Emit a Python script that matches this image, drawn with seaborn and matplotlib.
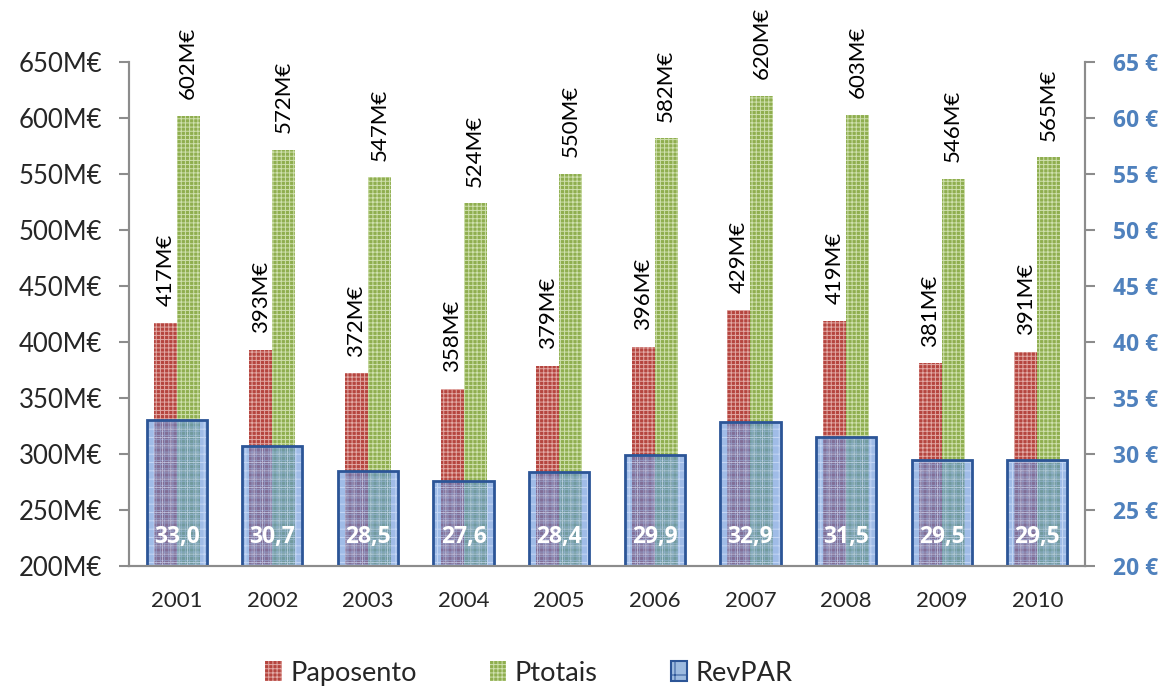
import matplotlib
matplotlib.use("Agg")
import matplotlib.pyplot as plt
import matplotlib.patches as mpatches
import seaborn as sns
import pandas as pd

years = ["2001", "2002", "2003", "2004", "2005", "2006", "2007", "2008", "2009", "2010"]
paposento = [417, 393, 372, 358, 379, 396, 429, 419, 381, 391]
ptotais = [602, 572, 547, 524, 550, 582, 620, 603, 546, 565]
revpar = [33.0, 30.7, 28.5, 27.6, 28.4, 29.9, 32.9, 31.5, 29.5, 29.5]
left_ticks = [200, 250, 300, 350, 400, 450, 500, 550, 600, 650]
right_ticks = [20, 25, 30, 35, 40, 45, 50, 55, 60, 65]

sns.set_theme(style="white")
plt.rcParams["font.family"] = ["Lato", "DejaVu Sans"]
plt.rcParams["hatch.linewidth"] = 0.7
BOLD_FAMILY = ["Open Sans", "Roboto", "DejaVu Sans"]

RED = "#B5453F"
GREEN = "#8FAE4F"
BLUE_FILL = (0.36, 0.55, 0.84, 0.58)
BLUE_EDGE = "#2C5597"
AXC = "#8C8C8C"

df = pd.DataFrame({
    "Ano": years * 2,
    "valor": paposento + ptotais,
    "serie": ["Paposento"] * len(years) + ["Ptotais"] * len(years),
})
df_rev = pd.DataFrame({"Ano": years, "RevPAR": revpar})

fig = plt.figure(figsize=(11.68, 6.91), dpi=100)
ax = fig.add_axes([0.1104, 0.181, 0.8186, 0.729])

sns.barplot(data=df, x="Ano", y="valor", hue="serie", order=years,
            palette=[RED, GREEN], width=0.48, ax=ax, legend=False,
            saturation=1)
hatch_cols = ["#E2A9A5", "#CFE0AE"]
for cont, hc in zip(ax.containers, hatch_cols):
    for p in cont.patches:
        p.set_hatch("++++")
        p.set_edgecolor(hc)
        p.set_linewidth(0)
    ax.bar_label(cont, labels=[f"{v:.0f}M€" for v in cont.datavalues],
                 rotation=90, padding=12, fontsize=16, color="black",
                 clip_on=False)

ax.set_ylim(200, 650)
ax.set_yticks(left_ticks)
ax.set_yticklabels([f"{t}M€" for t in left_ticks], fontsize=18.5)
ax.set_xlim(-0.5, len(years) - 0.5)
ax.set_xlabel("")
ax.set_ylabel("")
ax.tick_params(axis="x", which="major", length=0, labelsize=16, pad=18)
ax.set_xticks([i - 0.5 for i in range(len(years) + 1)], minor=True)
ax.tick_params(axis="x", which="minor", length=7, color=AXC, width=1.5, direction="out")
ax.tick_params(axis="y", length=7, color=AXC, width=1.5, direction="out", pad=12)

ax2 = ax.twinx()
sns.barplot(data=df_rev, x="Ano", y="RevPAR", order=years, color="#9DBBE0",
            width=0.63, ax=ax2, saturation=1)
for p in ax2.containers[0].patches:
    p.set_facecolor(BLUE_FILL)
    p.set_hatch("++")
    p.set_edgecolor((0.88, 0.92, 1.0, 0.55))
    p.set_linewidth(0)
    ax2.add_patch(mpatches.Rectangle(p.get_xy(), p.get_width(), p.get_height(),
                                     fill=False, edgecolor=BLUE_EDGE, linewidth=2))
for p, v in zip(ax2.containers[0].patches, revpar):
    ax2.text(p.get_x() + p.get_width() / 2, 22.6, f"{v:.1f}".replace(".", ","),
             ha="center", va="center", color="white", fontweight="bold",
             fontsize=16.5, family=BOLD_FAMILY, zorder=5)

ax2.set_ylim(20, 65)
ax2.set_yticks(right_ticks)
ax2.set_yticklabels([f"{t} €" for t in right_ticks], fontsize=16.5,
                    fontweight="bold", color="#4F81BD", family=BOLD_FAMILY)
ax2.set_ylabel("")
ax2.set_xlim(-0.5, len(years) - 0.5)
ax2.tick_params(axis="y", length=7, color=AXC, width=1.5, direction="out", pad=13)

for a in (ax, ax2):
    a.spines["top"].set_visible(False)
    for s in ("left", "right", "bottom"):
        a.spines[s].set_color(AXC)
        a.spines[s].set_linewidth(1.5)
    a.grid(False)
    a.set_facecolor("none")

handles = [
    mpatches.Patch(facecolor=RED, edgecolor="#E2A9A5", hatch="++++", linewidth=0, label="Paposento"),
    mpatches.Patch(facecolor=GREEN, edgecolor="#CFE0AE", hatch="++++", linewidth=0, label="Ptotais"),
    mpatches.Patch(facecolor="#9DBBE0", edgecolor=BLUE_EDGE, hatch="+", linewidth=1.5, label="RevPAR"),
]
fig.legend(handles=handles, loc="center", bbox_to_anchor=(0.453, 0.026), ncol=3,
           frameon=False, fontsize=19.5, handlelength=0.6, handleheight=0.8,
           handletextpad=0.32, columnspacing=2.7)

fig.savefig("out.png", dpi=100)
